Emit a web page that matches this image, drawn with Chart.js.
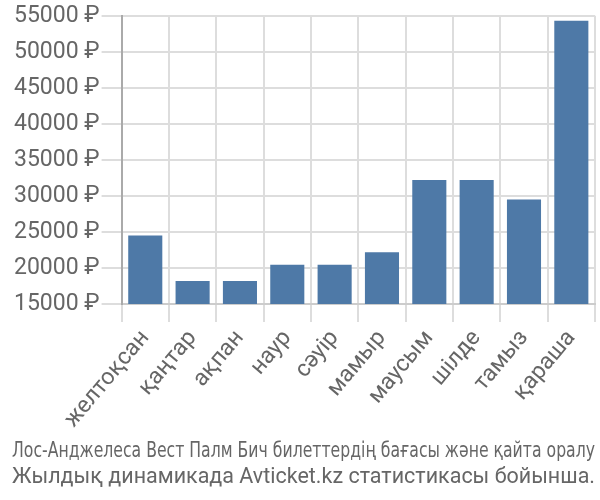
<!DOCTYPE html>
<html>
<head>
<meta charset="utf-8">
<script src="https://cdn.jsdelivr.net/npm/chart.js@4"></script>
<style>
  html, body { margin: 0; padding: 0; background: #fff; }
  #wrap { width: 600px; height: 500px; }
</style>
</head>
<body>
<div id="wrap"><canvas id="priceChart"></canvas></div>
<script>
const months = ['желтоқсан', 'қаңтар', 'ақпан', 'наур', 'сәуір', 'мамыр', 'маусым', 'шілде', 'тамыз', 'қараша'];
const prices = [24500, 18200, 18200, 20450, 20450, 22200, 32200, 32200, 29500, 54300];
const yTicks = [15000, 20000, 25000, 30000, 35000, 40000, 45000, 50000, 55000];
const titleLines = [
    'Лос-Анджелеса Вест Палм Бич билеттердің бағасы және қайта оралу',
    'Жылдық динамикада Avticket.kz статистикасы бойынша.'
];

document.addEventListener('DOMContentLoaded', () => {
    const ctx = document.getElementById('priceChart').getContext('2d');

    new Chart(ctx, {
        type: 'bar',
        data: {
            labels: months,
            datasets: [{
                data: prices,
                backgroundColor: '#4e79a7',
                borderWidth: 0,
                barPercentage: 0.72,
                categoryPercentage: 1
            }]
        },
        options: {
            responsive: true,
            maintainAspectRatio: false,
            animation: false,
            layout: { padding: { top: 4, right: 5, left: 12, bottom: 9 } },
            plugins: {
                legend: { display: false },
                tooltip: { enabled: false },
                title: {
                    display: true,
                    position: 'bottom',
                    text: titleLines[1],
                    color: '#666',
                    font: { family: 'Roboto', size: 22, weight: 'normal' },
                    padding: { top: 0, bottom: 0 }
                },
                subtitle: {
                    display: true,
                    position: 'bottom',
                    text: titleLines[0],
                    color: '#666',
                    font: { family: '"Liberation Sans Narrow", "DejaVu Sans Condensed"', size: 22, weight: 'normal' },
                    padding: { top: 2, bottom: 0 }
                }
            },
            scales: {
                x: {
                    grid: { color: '#ddd', lineWidth: 2, tickLength: 18, offset: true },
                    border: { color: '#ccc', width: 2 },
                    ticks: {
                        color: '#666',
                        font: { family: 'Roboto', size: 23 },
                        minRotation: 50,
                        maxRotation: 50,
                        autoSkip: false
                    }
                },
                y: {
                    min: 15000,
                    max: 55000,
                    afterBuildTicks: axis => { axis.ticks = yTicks.map(v => ({ value: v })); },
                    grid: { color: '#ddd', lineWidth: 2, tickLength: 20 },
                    border: { color: '#aaa', width: 2 },
                    ticks: {
                        color: '#666',
                        padding: 2,
                        font: { family: 'Roboto', size: 23 },
                        callback: v => v + ' ₽'
                    }
                }
            }
        }
    });
});
</script>
</body>
</html>
